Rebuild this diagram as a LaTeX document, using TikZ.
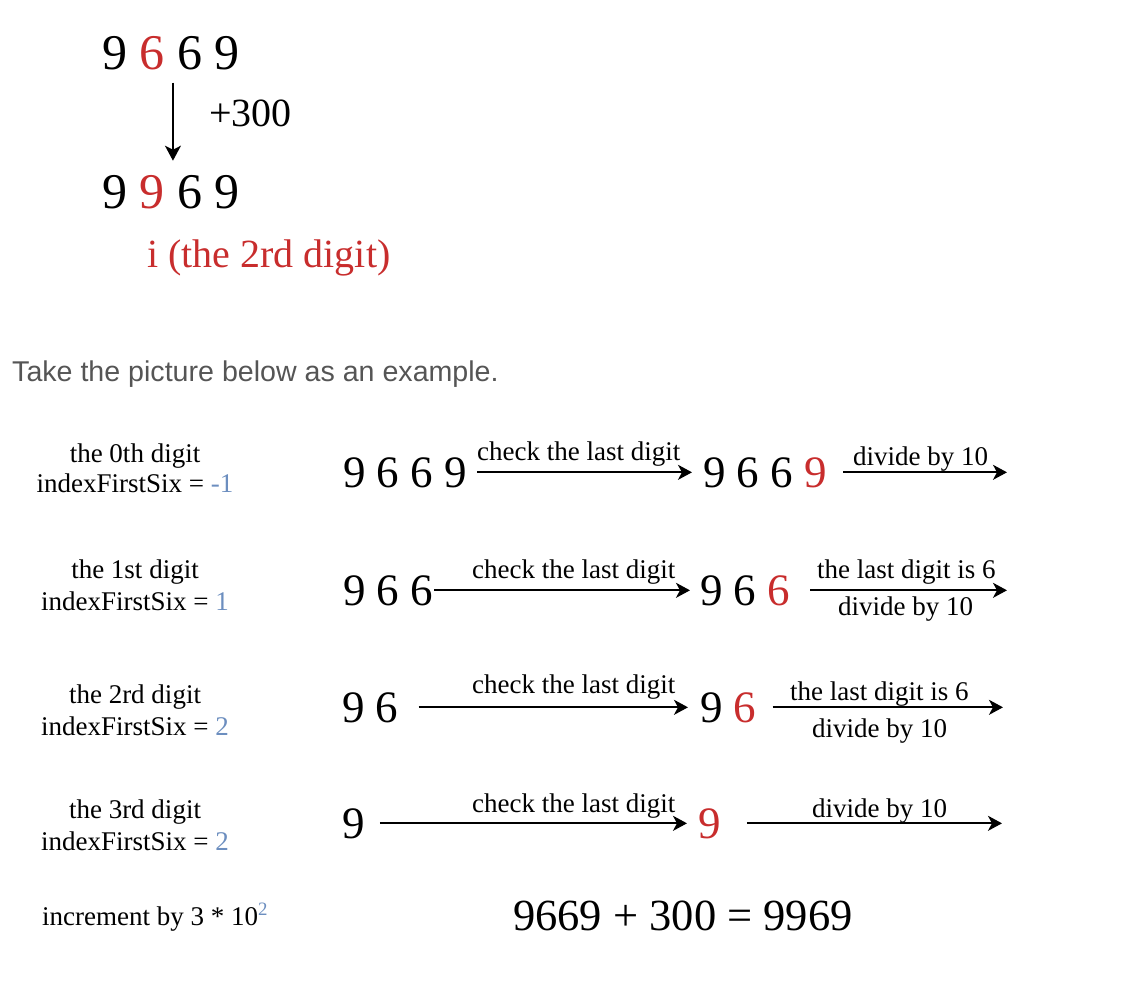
\documentclass[tikz,border=0pt]{standalone}
\usepackage{fontspec}
\setmainfont{Liberation Serif}
\newfontfamily\notesans{Liberation Sans}
\usetikzlibrary{arrows.meta}
\definecolor{digred}{RGB}{200,45,45}
\definecolor{idxblue}{RGB}{108,142,191}
\definecolor{notegray}{RGB}{85,85,85}
\tikzset{
  txt/.style={inner sep=0pt, anchor=base west, text=black},
  bigdig/.style={txt, font=\fontsize{45}{50}\selectfont},
  lbl/.style={txt, font=\fontsize{27}{32}\selectfont},
  ctrlbl/.style={inner sep=0pt, anchor=base, text=black, font=\fontsize{27}{32}\selectfont},
  arr/.style={-{Stealth[length=14pt,width=15pt,inset=4pt]}, line width=2pt, draw=black},
  toparr/.style={-{Stealth[length=15pt,width=16pt,inset=4pt]}, line width=1.6pt, draw=black},
}
\begin{document}
\begin{tikzpicture}[x=1pt,y=-1pt]
\useasboundingbox (0,0) rectangle (1128,1006);

% ---- top example ----
\node[txt, font=\fontsize{50}{55}\selectfont] (top1) at (102,70) {9 {\color{digred}6} 6 9};
\node[txt, font=\fontsize{50}{55}\selectfont] (top2) at (102,208) {9 {\color{digred}9} 6 9};
\draw[toparr] ([xshift=2pt,yshift=-12pt]top1.south) -- ([xshift=2pt,yshift=14pt]top2.north);
\node[txt, font=\fontsize{40}{44}\selectfont] (plus) at (209,127) {+300};
\node[txt, text=digred, font=\fontsize{40}{45}\selectfont] (ith) at (147,267) {i (the 2rd digit)};

\node[txt, text=notegray, font=\notesans\fontsize{28.6}{33}\selectfont] (note) at (12,381) {Take the picture below as an example.};

% ---- left labels ----
\node[ctrlbl] (l1a) at (135,462) {the 0th digit};
\node[ctrlbl] (l1b) at (135,492) {indexFirstSix = {\color{idxblue}-1}};
\node[ctrlbl] (l2a) at (135,578) {the 1st digit};
\node[ctrlbl] (l2b) at (135,610) {indexFirstSix = {\color{idxblue}1}};
\node[ctrlbl] (l3a) at (135,703) {the 2rd digit};
\node[ctrlbl] (l3b) at (135,735) {indexFirstSix = {\color{idxblue}2}};
\node[ctrlbl] (l4a) at (135,818) {the 3rd digit};
\node[ctrlbl] (l4b) at (135,850) {indexFirstSix = {\color{idxblue}2}};
\node[lbl] (l5) at (42,925) {increment by 3 * 10\textsuperscript{\color{idxblue}2}};

% ---- row 1 ----
\node[bigdig] (r1a) at (343,487) {9 6 6 9};
\node[bigdig] (r1b) at (703,487) {9 6 6 {\color{digred}9}};
\coordinate (e1) at (r1b.east -| 1007,0);
\draw[arr] ([xshift=10pt]r1a.east) -- ([xshift=-11pt]r1b.west);
\draw[arr] ([xshift=16pt]r1b.east) -- (e1);
\node[lbl] (c1) at (477,460) {check the last digit};
\node[lbl] (d1) at (853,465) {divide by 10};

% ---- row 2 ----
\node[bigdig] (r2a) at (343,605) {9 6 6};
\node[bigdig] (r2b) at (700,605) {9 6 {\color{digred}6}};
\coordinate (e2) at (r2b.east -| 1007,0);
\draw[arr] ([xshift=1pt]r2a.east) -- ([xshift=-10pt]r2b.west);
\draw[arr] ([xshift=20pt]r2b.east) -- (e2);
\node[lbl] (c2) at (472,578) {check the last digit};
\node[lbl] (s2) at (817,578) {the last digit is 6};
\node[lbl] (d2) at (838,615) {divide by 10};

% ---- row 3 ----
\node[bigdig] (r3a) at (342,722) {9 6};
\node[bigdig] (r3b) at (700,722) {9 {\color{digred}6}};
\coordinate (e3) at (r3b.east -| 1003,0);
\draw[arr] ([xshift=20pt]r3a.east) -- ([xshift=-12pt]r3b.west);
\draw[arr] ([xshift=16pt]r3b.east) -- (e3);
\node[lbl] (c3) at (472,693) {check the last digit};
\node[lbl] (s3) at (790,700) {the last digit is 6};
\node[lbl] (d3) at (812,737) {divide by 10};

% ---- row 4 ----
\node[bigdig] (r4a) at (342,838) {9};
\node[bigdig, text=digred] (r4b) at (698,838) {9};
\coordinate (e4) at (r4b.east -| 1002,0);
\draw[arr] ([xshift=15pt]r4a.east) -- ([xshift=-11pt]r4b.west);
\draw[arr] ([xshift=26pt]r4b.east) -- (e4);
\node[lbl] (c4) at (472,812) {check the last digit};
\node[lbl] (d4) at (812,817) {divide by 10};

% ---- result ----
\node[txt, font=\fontsize{44.5}{48}\selectfont] (res) at (513,930) {9669 + 300 = 9969};
\end{tikzpicture}
\end{document}
